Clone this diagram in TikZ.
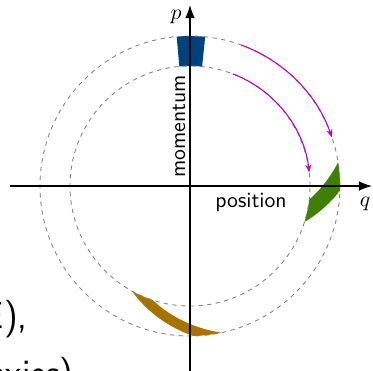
\documentclass[tikz,border=0pt]{standalone}
\usepackage{tikz}
\usetikzlibrary{arrows.meta}

\definecolor{blobblue}{RGB}{0,66,128}
\definecolor{blobgreen}{RGB}{64,128,0}
\definecolor{blobbrown}{RGB}{166,115,0}
\definecolor{flowmag}{RGB}{192,0,192}

% phase-space patch: #1 colour, #2 turn of outer edge, #3 turn of inner edge
\newcommand{\blob}[3]{%
  \fill[#1] plot[domain=120:150, samples=16] ({84.2-#2-(150-\x)*(#3-#2)/30}:\x)
    arc[start angle=84.2-#2, end angle=95.1-#2, radius=150]
    -- plot[domain=150:120, samples=16] ({95.1-#2-(150-\x)*(#3-#2)/30}:\x)
    arc[start angle=95.1-#3, end angle=84.2-#3, radius=120] -- cycle;}

\begin{document}
\begin{tikzpicture}[
  x=0.46pt, y=0.46pt,
  orbit/.style={draw=gray, dash pattern=on 2pt off 2pt, line width=0.4pt},
  axis/.style={-{Latex[length=6pt,width=4.4pt]}, line width=0.55pt},
  flow/.style={-{Stealth[length=3.6pt,width=2.8pt]}, draw=flowmag, line width=0.5pt},
  label/.style={font=\sffamily, inner sep=0pt},
  slide/.style={font=\sffamily\LARGE, inner sep=0pt, anchor=base east}
]
\useasboundingbox (-190,-184) rectangle (183,186);

% Patches at three times
\blob{blobblue}{0}{0}
\blob{blobgreen}{86}{101.6}
\blob{blobbrown}{173}{203.2}

% Energy shells
\draw[orbit] (0,0) circle[radius=150];
\draw[orbit] (0,0) circle[radius=120];

% Flow arrows
\coordinate (outerstart) at (70:150);
\coordinate (innerstart) at (69:120);
\draw[flow] (outerstart) arc[start angle=70, end angle=19, radius=150];
\draw[flow] (innerstart) arc[start angle=69, end angle=6.5, radius=120];

% Axes
\coordinate (qfrom) at (-180,0);
\coordinate (qto) at (182,0);
\coordinate (pfrom) at (0,-186);
\coordinate (pto) at (0,181);
\draw[axis] (qfrom) -- (qto);
\draw[axis] (pfrom) -- (pto);

% Axis labels
\node[label] (plabel) at (-14,169) {$p$};
\node[label] (qlabel) at (175,-18) {$q$};
\node[label, anchor=base] (poslabel) at (61,-21.7) {position};
\node[label, rotate=90, anchor=base west] (momlabel) at (-5,8) {momentum};

% Slide text behind the figure
\node[slide] (slidetop) at (-162,-142) {E),};
\node[slide] (slidebot) at (-116,-199) {axies)};

\end{tikzpicture}
\end{document}
